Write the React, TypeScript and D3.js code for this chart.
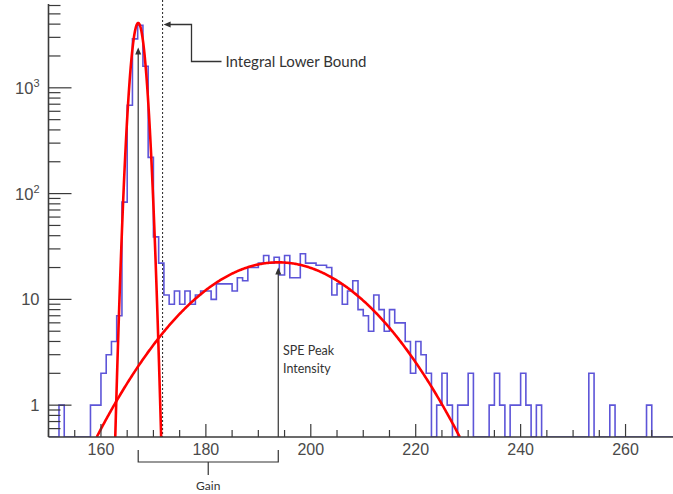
import React from "react";
import * as d3 from "d3";

// ---- Data ----
const binLow = 150;
const binWidth = 1;
const counts = [
  0, 0, 1, 0, 0, 0, 0, 0, 1, 1, // 150-159
  2, 3, 4, 7, 83, 685, 2900, 3900, 1600, 220, // 160-169
  39, 22, 11, 9, 12, 9, 12, 9, 11, 12, // 170-179
  12, 10, 14, 14, 14, 12, 16, 15, 20, 20, // 180-189
  22, 26, 22, 25, 17, 26, 16, 16, 27, 22, // 190-199
  22, 21, 21, 20, 11, 14, 9, 12, 15, 8, // 200-209
  7, 5, 11, 8, 5, 8, 6, 6, 4, 2, // 210-219
  4, 3, 2, 0, 1, 2, 1, 0, 1, 1, // 220-229
  2, 0, 0, 0, 1, 2, 1, 0, 1, 1, // 230-239
  2, 1, 0, 1, 0, 0, 0, 0, 0, 0, // 240-249
  0, 0, 0, 2, 0, 0, 0, 1, 0, 0, // 250-259
  0, 0, 0, 0, 1, 0, 0, 0, 0, 0, // 260-269
];

const pedestalFit = { amp: 4100, mean: 167.1, sigma: 1.03 };
const speFit = { amp: 22.4, mean: 193.8, sigma: 12.55 };

const xMajorTicks = [160, 180, 200, 220, 240, 260];
const yMajorTicks = [1, 10, 100, 1000];
const yMajorLabels = [["1", ""], ["10", ""], ["10", "2"], ["10", "3"]];

const integralLowerBound = 171.75;
const peakArrowTip = 2400;
const speArrowTip = 20;

const W = 673;
const H = 494;

function gauss(p: { amp: number; mean: number; sigma: number }, v: number) {
  return p.amp * Math.exp(-((v - p.mean) ** 2) / (2 * p.sigma * p.sigma));
}

export default function App() {
  const x = d3.scaleLinear().domain([150, 270]).range([48.5, 678]);
  const y = d3.scaleLog().domain([0.5, 6200]).range([437, 4]);
  const yBottom = 437;
  const yVal = (c: number) => (c <= 0.5 ? yBottom : y(c));

  // histogram step path
  let path = `M${x(binLow)},${yBottom}`;
  counts.forEach((c, i) => {
    const x0 = x(binLow + i * binWidth);
    const x1 = x(binLow + (i + 1) * binWidth);
    const yy = yVal(c);
    path += `L${x0},${yy}L${x1},${yy}`;
  });
  path += `L${x(binLow + counts.length * binWidth)},${yBottom}`;

  const fitPath = (p: { amp: number; mean: number; sigma: number }) => {
    const half = p.sigma * Math.sqrt(2 * Math.log(p.amp / 0.5));
    const xs = d3.range(p.mean - half, p.mean + half, half / 200).concat([p.mean + half]);
    const line = d3
      .line<number>()
      .x((v) => x(v))
      .y((v) => Math.min(yBottom, y(Math.max(0.5, gauss(p, v)))));
    return line(xs) || "";
  };

  const yMinor: number[] = [];
  for (let k = -1; k <= 3; k++) {
    for (let m = 2; m <= 9; m++) {
      const v = m * Math.pow(10, k);
      if (v > 0.5 && v <= 6200) yMinor.push(v);
    }
  }
  const xMinor = d3.range(150, 271, 5).filter((v) => !xMajorTicks.includes(v));

  const axisColor = "#3a3a3a";
  const textColor = "#4a4a4a";
  const annColor = "#333";
  const annFont = "Lato, 'Open Sans', sans-serif";

  const xPeak = x(pedestalFit.mean);
  const xSpe = x(speFit.mean);
  const xMid = (xPeak + xSpe) / 2;
  const xDot = x(integralLowerBound);

  return (
    <svg
      width={W}
      height={H}
      style={{ position: "absolute", left: 0, top: 0, background: "#fff" }}
      fontFamily="'Liberation Sans', Arial, sans-serif"
    >
      <defs>
        <clipPath id="plot">
          <rect x={48.5} y={0} width={W} height={yBottom} />
        </clipPath>
      </defs>

      {/* histogram */}
      <path d={path} fill="none" stroke="#5d55d8" strokeWidth={1.6} clipPath="url(#plot)" />

      {/* dotted integral lower bound */}
      <line x1={xDot} x2={xDot} y1={0} y2={yBottom} stroke="#222" strokeWidth={1} strokeDasharray="2,2" />

      {/* peak arrow line */}
      <line x1={xPeak} x2={xPeak} y1={y(peakArrowTip) + 5} y2={yBottom} stroke={annColor} strokeWidth={1.2} />
      <path
        d={`M${xPeak},${y(peakArrowTip)} L${xPeak - 3},${y(peakArrowTip) + 7} L${xPeak + 3},${y(peakArrowTip) + 7} Z`}
        fill={annColor}
      />

      {/* SPE arrow */}
      <line x1={xSpe} x2={xSpe} y1={y(speArrowTip) + 5} y2={yBottom} stroke={annColor} strokeWidth={1.2} />
      <path
        d={`M${xSpe},${y(speArrowTip)} L${xSpe - 3},${y(speArrowTip) + 7} L${xSpe + 3},${y(speArrowTip) + 7} Z`}
        fill={annColor}
      />

      {/* fits */}
      <path d={fitPath(speFit)} fill="none" stroke="#ff0000" strokeWidth={2.6} clipPath="url(#plot)" />
      <path d={fitPath(pedestalFit)} fill="none" stroke="#ff0000" strokeWidth={2.6} clipPath="url(#plot)" />

      {/* axes */}
      <line x1={48.5} x2={W} y1={yBottom} y2={yBottom} stroke={axisColor} strokeWidth={1.6} />
      <line x1={48.5} x2={48.5} y1={4} y2={yBottom} stroke={axisColor} strokeWidth={1.6} />

      {xMajorTicks.map((t) => (
        <line key={"xM" + t} x1={x(t)} x2={x(t)} y1={yBottom} y2={yBottom - 13} stroke={axisColor} strokeWidth={1.2} />
      ))}
      {xMinor.map((t) => (
        <line key={"xm" + t} x1={x(t)} x2={x(t)} y1={yBottom} y2={yBottom - 7} stroke={axisColor} strokeWidth={1.2} />
      ))}
      {xMajorTicks.map((t) => (
        <text key={"xl" + t} x={x(t)} y={455} textAnchor="middle" fontSize={16} fill={textColor}>
          {t}
        </text>
      ))}

      {yMajorTicks.map((t) => (
        <line key={"yM" + t} x1={48.5} x2={48.5 + 23} y1={y(t)} y2={y(t)} stroke={axisColor} strokeWidth={1.2} />
      ))}
      {yMinor.map((t) => (
        <line key={"ym" + t} x1={48.5} x2={48.5 + 12} y1={y(t)} y2={y(t)} stroke={axisColor} strokeWidth={1.2} />
      ))}
      {yMajorTicks.map((t, i) => (
        <text key={"yl" + t} x={39.5} y={y(t) + 6} textAnchor="end" fontSize={16.5} fill={textColor}>
          {yMajorLabels[i][0]}
          {yMajorLabels[i][1] ? (
            <tspan fontSize={11} dy={-7}>
              {yMajorLabels[i][1]}
            </tspan>
          ) : null}
        </text>
      ))}

      {/* Integral lower bound callout */}
      <path d={`M${xDot + 1},24.5 L${xDot + 8},21.5 L${xDot + 8},27.5 Z`} fill={annColor} />
      <path d={`M${xDot + 7},24.5 H191.5 V61.5 H221.5`} fill="none" stroke={annColor} strokeWidth={1.3} />
      <text x={225.5} y={66.5} fontSize={15} fill={annColor} fontFamily={annFont}>
        Integral Lower Bound
      </text>

      {/* SPE label */}
      <text x={283} y={354.5} fontSize={12.5} fill={annColor} fontFamily={annFont}>
        SPE Peak
      </text>
      <text x={283} y={372.5} fontSize={12.5} fill={annColor} fontFamily={annFont}>
        Intensity
      </text>

      {/* Gain bracket */}
      <path d={`M${xPeak},450 V462 H${xSpe} V450`} fill="none" stroke={annColor} strokeWidth={1.2} />
      <line x1={xMid} x2={xMid} y1={462} y2={475} stroke={annColor} strokeWidth={1.2} />
      <text x={xMid} y={490} textAnchor="middle" fontSize={12} fill={annColor} fontFamily={annFont}>
        Gain
      </text>
    </svg>
  );
}
